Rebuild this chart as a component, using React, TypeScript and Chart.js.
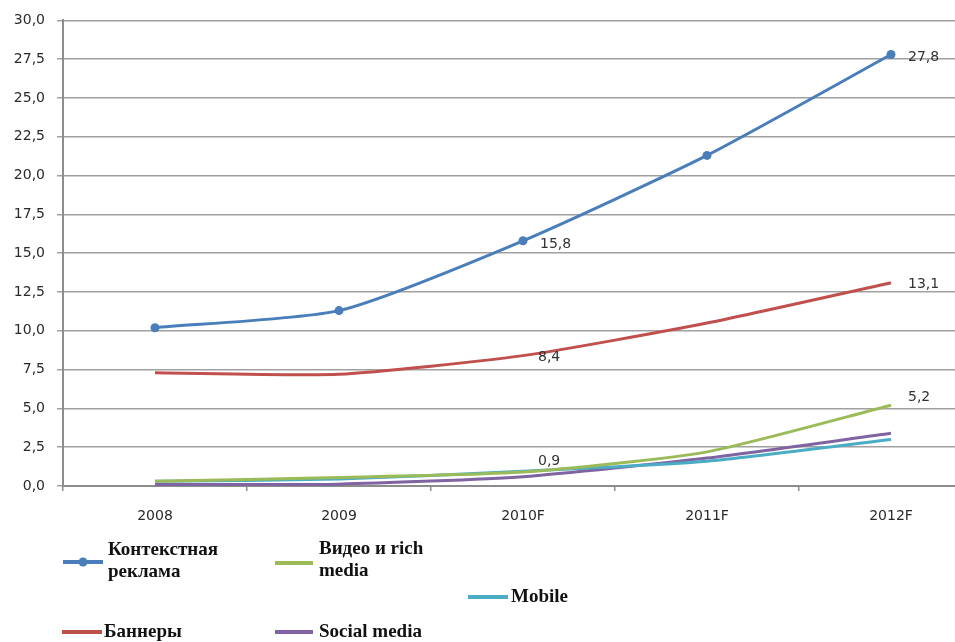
import React, { useEffect, useRef } from "react";
import { Chart, registerables } from "chart.js";

Chart.register(...registerables);

const categories = ["2008", "2009", "2010F", "2011F", "2012F"];
const seriesNames = ["Контекстная реклама", "Баннеры", "Видео и rich media", "Mobile", "Social media"];
const contextAds = [10.2, 11.3, 15.8, 21.3, 27.8];
const banners = [7.3, 7.2, 8.4, 10.5, 13.1];
const videoRich = [0.3, 0.55, 0.9, 2.2, 5.2];
const mobile = [0.3, 0.45, 0.95, 1.6, 3.0];
const socialMedia = [0.1, 0.12, 0.6, 1.8, 3.4];
const yTicks = [0, 2.5, 5, 7.5, 10, 12.5, 15, 17.5, 20, 22.5, 25, 27.5, 30];

const colors = ["#4a7ebb", "#c0504d", "#9bbb59", "#4bacc6", "#8064a2"];

// which points carry value labels: [datasetIndex, pointIndex, dx, dy]
const valueLabels: [number, number, number, number][] = [
  [0, 2, 17, 4],
  [0, 4, 17, 3],
  [1, 2, 15, 2],
  [1, 4, 17, 2],
  [2, 2, 15, -11],
  [2, 4, 17, -8],
];

// legend layout per dataset
const legendLayout = [
  { x1: 63, x2: 103, y: 562, tx: 108, ty: 550, marker: true },
  { x1: 62, x2: 102, y: 632, tx: 104, ty: 632, marker: false },
  { x1: 275, x2: 313, y: 563, tx: 319, ty: 549, marker: false },
  { x1: 468, x2: 508, y: 597, tx: 511, ty: 597, marker: false },
  { x1: 275, x2: 313, y: 632, tx: 319, ty: 632, marker: false },
];

const fmt = (v: number) => v.toFixed(1).replace(".", ",");

const labelPlugin = {
  id: "valueLabels",
  afterDatasetsDraw(chart: any) {
    const ctx = chart.ctx;
    ctx.save();
    ctx.font = "14px 'DejaVu Sans'";
    ctx.fillStyle = "#333";
    ctx.textAlign = "left";
    ctx.textBaseline = "middle";
    for (const [di, pi, dx, dy] of valueLabels) {
      const el = chart.getDatasetMeta(di).data[pi];
      const v = chart.data.datasets[di].data[pi] as number;
      ctx.fillText(fmt(v), el.x + dx, el.y + dy);
    }
    ctx.restore();
  },
};

const legendPlugin = {
  id: "customLegend",
  afterDraw(chart: any) {
    const ctx = chart.ctx;
    ctx.save();
    ctx.font = "bold 19px 'Liberation Serif'";
    ctx.textBaseline = "middle";
    ctx.textAlign = "left";
    chart.data.datasets.forEach((ds: any, i: number) => {
      const L = legendLayout[i];
      ctx.strokeStyle = ds.borderColor;
      ctx.lineWidth = 4;
      ctx.beginPath();
      ctx.moveTo(L.x1, L.y);
      ctx.lineTo(L.x2, L.y);
      ctx.stroke();
      if (L.marker) {
        ctx.fillStyle = ds.borderColor;
        ctx.beginPath();
        ctx.arc((L.x1 + L.x2) / 2, L.y, 4.5, 0, Math.PI * 2);
        ctx.fill();
      }
      const words = String(ds.label).split(" ");
      const lines: string[] = [];
      let cur = "";
      for (const w of words) {
        const t = cur ? cur + " " + w : w;
        if (ctx.measureText(t).width > 135 && cur) {
          lines.push(cur);
          cur = w;
        } else cur = t;
      }
      if (cur) lines.push(cur);
      ctx.fillStyle = "#111";
      lines.forEach((ln, k) => ctx.fillText(ln, L.tx, L.ty + k * 22));
    });
    ctx.restore();
  },
};

export default function App() {
  const ref = useRef<HTMLCanvasElement>(null);
  useEffect(() => {
    if (!ref.current) return;
    const seriesData = [contextAds, banners, videoRich, mobile, socialMedia];
    const chart = new Chart(ref.current, {
      type: "line",
      data: {
        labels: categories,
        datasets: seriesData.map((d, i) => ({
          label: seriesNames[i],
          data: d,
          borderColor: colors[i],
          backgroundColor: colors[i],
          borderWidth: 3,
          pointRadius: i === 0 ? 4.5 : 0,
          pointHoverRadius: 0,
          pointBorderWidth: 0,
          tension: 0.2,
          fill: false,
        })),
      },
      options: {
        animation: false,
        responsive: false,
        devicePixelRatio: 1,
        layout: { padding: { top: 16, right: 7, left: 0, bottom: 0 } },
        plugins: { legend: { display: false }, tooltip: { enabled: false } },
        scales: {
          x: {
            offset: true,
            grid: {
              offset: true,
              drawOnChartArea: false,
              drawTicks: true,
              tickLength: 5,
              color: "#8c8c8c",
              lineWidth: 1.5,
            },
            border: { color: "#8c8c8c", width: 2 },
            ticks: {
              padding: 17,
              color: "#2a2a2a",
              font: { family: "'DejaVu Sans'", size: 14 },
              maxRotation: 0,
            },
            afterFit(scale: any) {
              scale.height = 156;
            },
          },
          y: {
            min: 0,
            max: 30,
            afterBuildTicks(scale: any) {
              scale.ticks = yTicks.map((v) => ({ value: v }));
            },
            grid: {
              color: "#a0a0a0",
              lineWidth: 1.5,
              tickLength: 6,
            },
            border: { color: "#8c8c8c", width: 2 },
            ticks: {
              padding: 12,
              color: "#2a2a2a",
              font: { family: "'DejaVu Sans'", size: 14 },
              callback: (v: any) => fmt(Number(v)),
            },
            afterFit(scale: any) {
              scale.width = 63;
            },
          },
        },
      },
      plugins: [labelPlugin, legendPlugin],
    });
    return () => chart.destroy();
  }, []);
  return (
    <div
      style={{
        position: "fixed",
        left: 0,
        top: 0,
        width: 955,
        height: 642,
        overflow: "hidden",
        background: "#fff",
      }}
    >
      <canvas ref={ref} width={990} height={642} style={{ width: 990, height: 642, display: "block" }} />
    </div>
  );
}
